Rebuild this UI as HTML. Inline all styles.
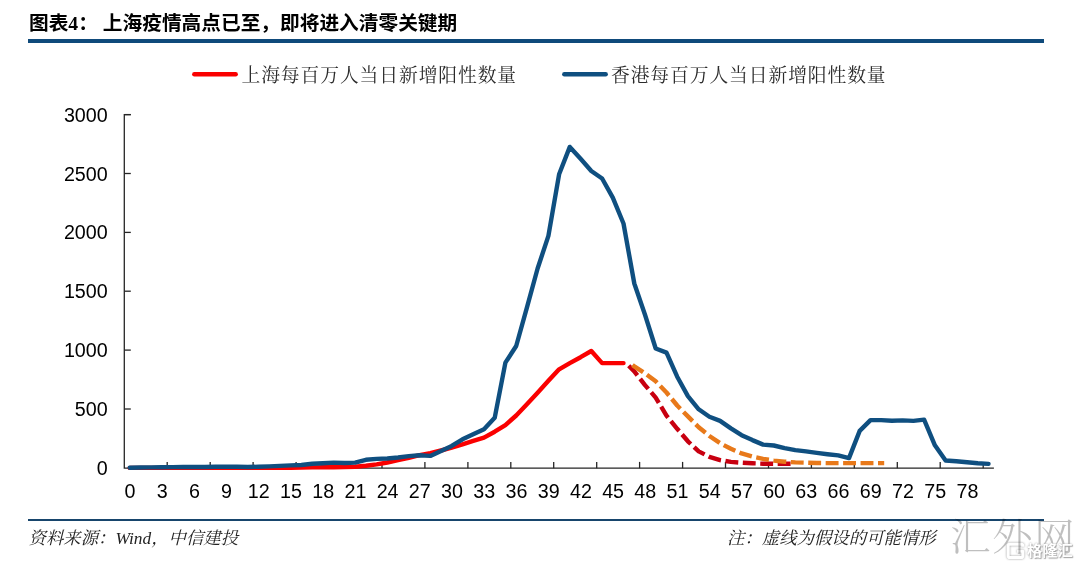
<!DOCTYPE html>
<html lang="zh-CN">
<head>
<meta charset="utf-8">
<title>图表4</title>
<style>
html,body{margin:0;padding:0;background:#fff;}
body{width:1080px;height:567px;position:relative;overflow:hidden;font-family:"Liberation Sans","Noto Sans CJK SC",sans-serif;}
.title{position:absolute;left:29px;top:9px;font-size:19.7px;line-height:28px;font-weight:bold;color:#000;white-space:nowrap;font-family:"Liberation Serif","Noto Sans CJK SC",sans-serif;}
.rule1{position:absolute;left:28px;top:39px;width:1016px;height:3.6px;background:#0f4a7b;}
.rule2{position:absolute;left:28px;top:518.6px;width:1016px;height:2px;background:#17456c;}
.legend{position:absolute;top:62px;font-size:18.8px;letter-spacing:0.9px;line-height:28px;color:#2b2b2b;white-space:nowrap;font-family:"Liberation Serif","Noto Serif CJK SC",serif;font-weight:400;}
.src{position:absolute;top:525px;font-size:17.4px;line-height:26px;font-style:italic;color:#222;white-space:nowrap;font-family:"Liberation Serif","Noto Serif CJK SC",serif;}
.wm{position:absolute;left:949.6px;top:511.5px;font-size:38px;letter-spacing:1.2px;transform:scaleX(1.07);transform-origin:0 0;line-height:50px;color:rgba(0,0,0,0.25);white-space:nowrap;font-family:"Liberation Serif","Noto Serif CJK SC",serif;font-weight:300;}
.gl{position:absolute;left:1027px;top:541px;font-size:15.2px;line-height:20px;color:#fff;font-weight:bold;white-space:nowrap;font-family:"Liberation Sans","Noto Sans CJK SC",sans-serif;text-shadow:0 0 2px #999,1px 1px 1px #aaa;}
svg{position:absolute;left:0;top:0;}
svg text{font-family:"Liberation Sans",sans-serif;font-size:19.7px;fill:#000;}
</style>
</head>
<body>
<div class="title">图表4： 上海疫情高点已至，即将进入清零关键期</div>
<div class="rule1"></div>
<div class="legend" style="left:241.5px">上海每百万人当日新增阳性数量</div>
<div class="legend" style="left:611px">香港每百万人当日新增阳性数量</div>
<svg width="1080" height="567" viewBox="0 0 1080 567">
<line x1="194.3" y1="74.2" x2="235.7" y2="74.2" stroke="#fa0000" stroke-width="4.4" stroke-linecap="round"/>
<line x1="564.3" y1="74.2" x2="605.7" y2="74.2" stroke="#0f4f80" stroke-width="4.4" stroke-linecap="round"/>
<g stroke="#262626" stroke-width="1.3" fill="none">
<polyline points="130.8,114.6 124.3,114.6 124.3,468.2 993.9,468.2"/>
<line x1="124.3" y1="409.0" x2="130.8" y2="409.0"/><line x1="124.3" y1="350.1" x2="130.8" y2="350.1"/><line x1="124.3" y1="291.2" x2="130.8" y2="291.2"/><line x1="124.3" y1="232.4" x2="130.8" y2="232.4"/><line x1="124.3" y1="173.5" x2="130.8" y2="173.5"/><line x1="124.3" y1="114.6" x2="130.8" y2="114.6"/>
<line x1="167.2" y1="468.2" x2="167.2" y2="461.9"/><line x1="210.2" y1="468.2" x2="210.2" y2="461.9"/><line x1="253.1" y1="468.2" x2="253.1" y2="461.9"/><line x1="296.1" y1="468.2" x2="296.1" y2="461.9"/><line x1="339.0" y1="468.2" x2="339.0" y2="461.9"/><line x1="382.0" y1="468.2" x2="382.0" y2="461.9"/><line x1="424.9" y1="468.2" x2="424.9" y2="461.9"/><line x1="467.9" y1="468.2" x2="467.9" y2="461.9"/><line x1="510.8" y1="468.2" x2="510.8" y2="461.9"/><line x1="553.7" y1="468.2" x2="553.7" y2="461.9"/><line x1="596.7" y1="468.2" x2="596.7" y2="461.9"/><line x1="639.6" y1="468.2" x2="639.6" y2="461.9"/><line x1="682.6" y1="468.2" x2="682.6" y2="461.9"/><line x1="725.5" y1="468.2" x2="725.5" y2="461.9"/><line x1="768.5" y1="468.2" x2="768.5" y2="461.9"/><line x1="811.4" y1="468.2" x2="811.4" y2="461.9"/><line x1="854.3" y1="468.2" x2="854.3" y2="461.9"/><line x1="897.3" y1="468.2" x2="897.3" y2="461.9"/><line x1="940.2" y1="468.2" x2="940.2" y2="461.9"/><line x1="983.2" y1="468.2" x2="983.2" y2="461.9"/>
</g>
<g fill="none" stroke-linejoin="round">
<polyline points="628.7,365.8 634.3,371.4 645.0,385.1 655.7,397.6 666.5,415.6 677.2,428.8 687.9,441.3 698.7,451.4 709.4,456.8 720.1,460.1 730.9,461.9 741.6,462.7 752.4,463.3 763.1,463.7 773.8,463.8 784.6,463.8 790.6,463.8" stroke="#c80010" stroke-width="4.4" stroke-dasharray="12.9 4.55"/>
<polyline points="632.5,365.0 634.3,366.4 645.0,373.4 655.7,381.3 666.5,392.5 677.2,405.5 687.9,416.4 698.7,427.2 709.4,436.0 720.1,443.2 730.9,448.8 741.6,453.4 752.4,456.5 763.1,458.8 773.8,460.6 784.6,461.7 795.3,462.4 806.0,462.7 816.8,463.0 827.5,463.1 838.2,463.1 849.0,463.1 859.7,463.1 870.5,463.1 881.2,463.1 884.2,463.1" stroke="#e8791a" stroke-width="4.4" stroke-dasharray="12.9 4.55"/>
<polyline points="129.7,467.9 140.4,467.9 151.1,467.9 161.9,467.9 172.6,467.9 183.3,467.9 194.1,467.9 204.8,467.9 215.6,467.9 226.3,467.9 237.0,467.9 247.8,467.9 258.5,467.9 269.2,467.8 280.0,467.8 290.7,467.7 301.4,467.5 312.2,467.4 322.9,467.3 333.7,467.2 344.4,467.0 355.1,466.7 365.9,465.8 376.6,464.4 387.3,462.5 398.1,460.1 408.8,457.9 419.5,455.2 430.3,453.2 441.0,450.5 451.7,447.6 462.5,444.3 473.2,440.9 484.0,437.6 494.7,431.7 505.4,425.1 516.2,415.5 526.9,404.3 537.6,392.8 548.4,380.8 559.1,369.3 569.8,363.1 580.6,357.2 591.3,351.0 602.1,363.1 612.8,363.1 623.5,363.1" stroke="#fa0000" stroke-width="4.4" stroke-linecap="round"/>
<polyline points="129.7,467.7 140.4,467.5 151.1,467.4 161.9,467.3 172.6,467.1 183.3,467.0 194.1,467.0 204.8,467.0 215.6,466.8 226.3,466.8 237.0,466.8 247.8,467.0 258.5,466.7 269.2,466.4 280.0,465.9 290.7,465.4 301.4,465.0 312.2,463.8 322.9,463.2 333.7,462.6 344.4,463.0 355.1,462.6 365.9,459.8 376.6,458.9 387.3,458.5 398.1,457.5 408.8,456.1 419.5,455.2 430.3,455.9 441.0,450.9 451.7,445.9 462.5,439.3 473.2,434.3 484.0,429.3 494.7,417.8 505.4,362.6 516.2,346.0 526.9,307.6 537.6,268.5 548.4,235.9 559.1,174.3 569.8,146.9 580.6,158.8 591.3,171.0 602.1,178.5 612.8,197.6 623.5,223.5 634.3,283.5 645.0,314.8 655.7,348.5 666.5,352.6 677.2,376.7 687.9,396.1 698.7,409.3 709.4,416.8 720.1,420.9 730.9,428.4 741.6,435.2 752.4,440.1 763.1,444.6 773.8,445.5 784.6,448.1 795.3,450.1 806.0,451.4 816.8,452.9 827.5,454.2 838.2,455.4 849.0,458.1 859.7,430.9 870.5,420.1 881.2,420.1 891.9,420.7 902.7,420.4 913.4,420.9 924.1,419.6 934.9,445.3 945.6,460.5 956.3,461.2 967.1,462.2 977.8,463.2 988.5,463.9" stroke="#0f4f80" stroke-width="4.4" stroke-linecap="round"/>
</g>
<g fill="none" stroke="#fff" stroke-width="3" stroke-linejoin="round" style="filter:drop-shadow(0.6px 0.8px 0.8px #9a9a9a)" transform="translate(1006.6,542.6)">
<path d="M16.2 4.2 V3.2 Q16.2 1.6 14.6 1.6 H3.2 Q1.6 1.6 1.6 3.2 V13.4 Q1.6 15 3.2 15 H14.6 Q16.2 15 16.2 13.4 V8.6 H10.5"/>
</g>
<g><text x="130.0" y="498" text-anchor="middle">0</text><text x="162.2" y="498" text-anchor="middle">3</text><text x="194.4" y="498" text-anchor="middle">6</text><text x="226.6" y="498" text-anchor="middle">9</text><text x="258.8" y="498" text-anchor="middle">12</text><text x="291.0" y="498" text-anchor="middle">15</text><text x="323.2" y="498" text-anchor="middle">18</text><text x="355.4" y="498" text-anchor="middle">21</text><text x="387.6" y="498" text-anchor="middle">24</text><text x="419.8" y="498" text-anchor="middle">27</text><text x="452.0" y="498" text-anchor="middle">30</text><text x="484.3" y="498" text-anchor="middle">33</text><text x="516.5" y="498" text-anchor="middle">36</text><text x="548.7" y="498" text-anchor="middle">39</text><text x="580.9" y="498" text-anchor="middle">42</text><text x="613.1" y="498" text-anchor="middle">45</text><text x="645.3" y="498" text-anchor="middle">48</text><text x="677.5" y="498" text-anchor="middle">51</text><text x="709.7" y="498" text-anchor="middle">54</text><text x="741.9" y="498" text-anchor="middle">57</text><text x="774.1" y="498" text-anchor="middle">60</text><text x="806.3" y="498" text-anchor="middle">63</text><text x="838.5" y="498" text-anchor="middle">66</text><text x="870.8" y="498" text-anchor="middle">69</text><text x="903.0" y="498" text-anchor="middle">72</text><text x="935.2" y="498" text-anchor="middle">75</text><text x="967.4" y="498" text-anchor="middle">78</text></g>
<g><text x="107.7" y="474.9" text-anchor="end">0</text><text x="107.7" y="416.0" text-anchor="end">500</text><text x="107.7" y="357.1" text-anchor="end">1000</text><text x="107.7" y="298.2" text-anchor="end">1500</text><text x="107.7" y="239.4" text-anchor="end">2000</text><text x="107.7" y="180.5" text-anchor="end">2500</text><text x="107.7" y="121.6" text-anchor="end">3000</text></g>
</svg>
<div class="rule2"></div>
<div class="src" style="left:28.5px">资料来源：Wind，中信建投</div>
<div class="src" style="left:727px">注：虚线为假设的可能情形</div>
<div class="wm">汇外网</div>
<div class="gl">格隆汇</div>
</body>
</html>
